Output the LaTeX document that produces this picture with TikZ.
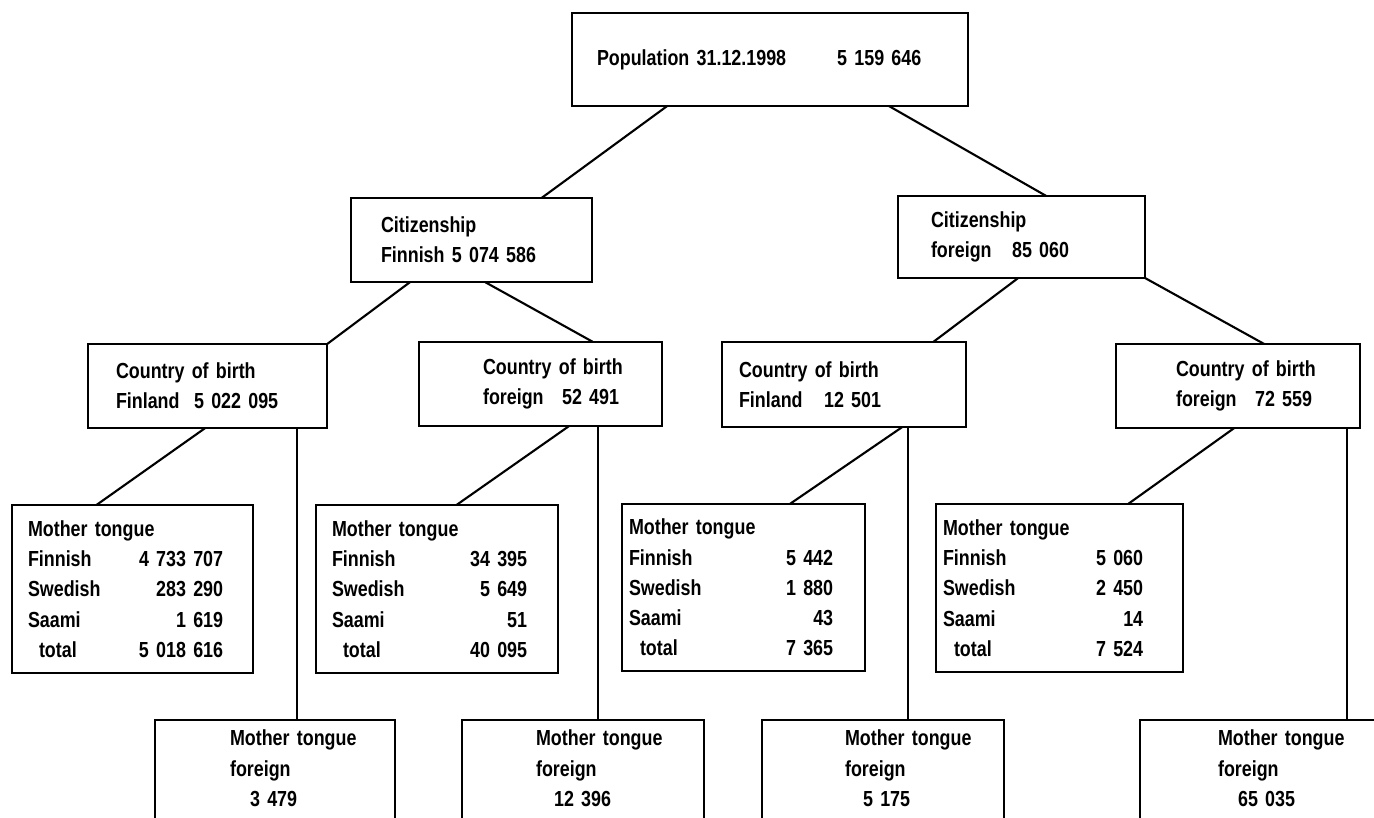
\documentclass[tikz,border=0pt]{standalone}
\usepackage{fontspec}
\setmainfont{Liberation Sans}[FakeStretch=0.82]
\usetikzlibrary{calc}

\newlength{\numright}
\newcommand{\mtrow}[2]{\makebox[\numright]{#1\hfill#2}}

\tikzset{
  box/.style={draw, line width=0.6pt, anchor=north west, align=left,
    inner ysep=0pt, outer sep=0pt, font=\fontsize{6.2}{8.6}\selectfont\bfseries},
  fbox/.style={box, inner ysep=0.1cm},
  link/.style={line width=0.6pt},
}

\begin{document}
\begin{tikzpicture}[x=0.01cm,y=-0.01cm]
  \useasboundingbox (0,0) rectangle (1374,817);
  \clip (0,0) rectangle (1374,817);

  % total
  \node[box, text width=3.46cm, inner xsep=0.25cm, minimum height=0.93cm] (pop) at (572,13)
    {\mbox{\makebox[2.4cm][l]{Population 31.12.1998}5 159 646}};

  % citizenship
  \node[box, text width=1.81cm, inner xsep=0.30cm, minimum height=0.84cm] (cf) at (351,198)
    {\mbox{Citizenship}\\\mbox{Finnish 5 074 586}};
  \node[box, text width=1.81cm, inner xsep=0.33cm, minimum height=0.82cm] (cx) at (898,196)
    {\mbox{Citizenship}\\\mbox{\makebox[0.81cm][l]{foreign}85 060}};

  % country of birth
  \node[box, text width=1.83cm, inner xsep=0.28cm, minimum height=0.84cm] (b1) at (88,344)
    {\mbox{Country of birth}\\\mbox{\makebox[0.78cm][l]{Finland}5 022 095}};
  \node[box, text width=1.15cm, inner xsep=0.64cm, minimum height=0.84cm] (b2) at (419,342)
    {\mbox{Country of birth}\\\mbox{\makebox[0.79cm][l]{foreign}52 491}};
  \node[box, text width=2.10cm, inner xsep=0.17cm, minimum height=0.85cm] (b3) at (722,342)
    {\mbox{Country of birth}\\\mbox{\makebox[0.85cm][l]{Finland}12 501}};
  \node[box, text width=1.24cm, inner xsep=0.60cm, minimum height=0.84cm] (b4) at (1116,344)
    {\mbox{Country of birth}\\\mbox{\makebox[0.79cm][l]{foreign}72 559}};

  % mother tongue tables
  \node[box, text width=2.09cm, inner xsep=0.16cm, minimum height=1.68cm] (m1) at (12,505)
    {\setlength{\numright}{1.95cm}\mbox{Mother tongue}\\
     \mtrow{Finnish}{4 733 707}\\
     \mtrow{Swedish}{283 290}\\
     \mtrow{Saami}{1 619}\\
     \mtrow{\hspace{0.11cm}total}{5 018 616}};
  \node[box, text width=2.10cm, inner xsep=0.16cm, minimum height=1.68cm] (m2) at (316,505)
    {\setlength{\numright}{1.95cm}\mbox{Mother tongue}\\
     \mtrow{Finnish}{34 395}\\
     \mtrow{Swedish}{5 649}\\
     \mtrow{Saami}{51}\\
     \mtrow{\hspace{0.11cm}total}{40 095}};
  \node[box, text width=2.29cm, inner xsep=0.07cm, minimum height=1.67cm] (m3) at (622,504)
    {\setlength{\numright}{2.04cm}\mbox{Mother tongue}\\
     \mtrow{Finnish}{5 442}\\
     \mtrow{Swedish}{1 880}\\
     \mtrow{Saami}{43}\\
     \mtrow{\hspace{0.11cm}total}{7 365}};
  \node[box, text width=2.33cm, inner xsep=0.07cm, minimum height=1.68cm] (m4) at (936,504)
    {\setlength{\numright}{2.00cm}\mbox{Mother tongue}\\
     \mtrow{Finnish}{5 060}\\
     \mtrow{Swedish}{2 450}\\
     \mtrow{Saami}{14}\\
     \mtrow{\hspace{0.11cm}total}{7 524}};

  % mother tongue foreign (cut at the bottom)
  \node[fbox, text width=0.90cm, inner xsep=0.75cm] (f1) at (155,720)
    {\mbox{Mother tongue}\\foreign\\\mbox{\hspace*{0.2cm}3 479}\rule[-1.2cm]{0pt}{0pt}};
  \node[fbox, text width=0.94cm, inner xsep=0.74cm] (f2) at (462,720)
    {\mbox{Mother tongue}\\foreign\\\mbox{\hspace*{0.18cm}12 396}\rule[-1.2cm]{0pt}{0pt}};
  \node[fbox, text width=0.76cm, inner xsep=0.83cm] (f3) at (762,720)
    {\mbox{Mother tongue}\\foreign\\\mbox{\hspace*{0.18cm}5 175}\rule[-1.2cm]{0pt}{0pt}};
  \node[fbox, text width=1.04cm, inner xsep=0.78cm] (f4) at (1140,720)
    {\mbox{Mother tongue}\\foreign\\\mbox{\hspace*{0.2cm}65 035}\rule[-1.2cm]{0pt}{0pt}};

  % links
  \draw[link] ($(pop.south west)!.24!(pop.south east)$) -- ($(cf.north west)!.79!(cf.north east)$);
  \draw[link] ($(pop.south west)!.80!(pop.south east)$) -- ($(cx.north west)!.60!(cx.north east)$);

  \draw[link] ($(cf.south west)!.245!(cf.south east)$) -- (b1.north east);
  \draw[link] ($(cf.south west)!.556!(cf.south east)$) -- ($(b2.north west)!.716!(b2.north east)$);
  \draw[link] ($(cx.south west)!.486!(cx.south east)$) -- ($(b3.north west)!.865!(b3.north east)$);
  \draw[link] (cx.south east) -- ($(b4.north west)!.607!(b4.north east)$);

  \draw[link] ($(b1.south west)!.49!(b1.south east)$) -- ($(m1.north west)!.35!(m1.north east)$);
  \draw[link] ($(b2.south west)!.617!(b2.south east)$) -- ($(m2.north west)!.58!(m2.north east)$);
  \draw[link] ($(b3.south west)!.738!(b3.south east)$) -- ($(m3.north west)!.69!(m3.north east)$);
  \draw[link] ($(b4.south west)!.484!(b4.south east)$) -- ($(m4.north west)!.777!(m4.north east)$);

  \coordinate (v1) at ($(b1.south west)!.874!(b1.south east)$);
  \coordinate (v2) at ($(b2.south west)!.737!(b2.south east)$);
  \coordinate (v3) at ($(b3.south west)!.762!(b3.south east)$);
  \coordinate (v4) at ($(b4.south west)!.947!(b4.south east)$);
  \draw[link] (v1) -- (v1 |- f1.north);
  \draw[link] (v2) -- (v2 |- f2.north);
  \draw[link] (v3) -- (v3 |- f3.north);
  \draw[link] (v4) -- (v4 |- f4.north);
\end{tikzpicture}
\end{document}
